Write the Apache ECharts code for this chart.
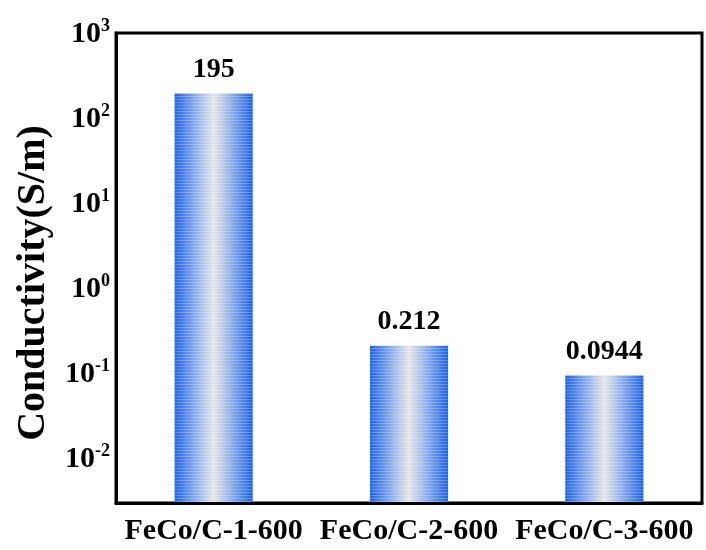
<!DOCTYPE html>
<html>
<head>
<meta charset="utf-8">
<script src="https://cdn.jsdelivr.net/npm/echarts@6/dist/echarts.min.js"></script>
<style>
html, body { margin: 0; padding: 0; background: #fff; }
#chart { width: 706px; height: 550px; }
</style>
</head>
<body>
<div id="chart"></div>
<script>
// samples and measured conductivity (S/m)
var samples = ['FeCo/C-1-600', 'FeCo/C-2-600', 'FeCo/C-3-600'];
var conductivity = [195, 0.212, 0.0944];
var yMin = 0.003, yMax = 1000;

// log axis bars grow from 1, so stack them on an invisible base at the axis bottom
var baseData = samples.map(function () { return yMin; });
var barData = conductivity.map(function (v) { return v - yMin; });

var font = 'Liberation Serif';
var barColor = {
    type: 'linear', x: 0, y: 0, x2: 1, y2: 0,
    colorStops: [
        { offset: 0, color: '#1f63e4' },
        { offset: 0.28, color: '#90b0ec' },
        { offset: 0.5, color: '#e6e6e6' },
        { offset: 0.72, color: '#90b0ec' },
        { offset: 1, color: '#1f63e4' }
    ]
};

var myChart = echarts.init(document.getElementById('chart'));
var option = {
    backgroundColor: '#fff',
    animation: false,
    grid: {
        left: 116, right: 4, top: 33, bottom: 47,
        show: true, borderColor: '#000', borderWidth: 3
    },
    xAxis: [{
        type: 'category',
        z: 5,
        data: samples,
        axisLine: { lineStyle: { color: '#000', width: 3 } },
        axisTick: { inside: true, alignWithLabel: true, length: 7, lineStyle: { color: '#000', width: 2 } },
        axisLabel: {
            color: '#000', fontFamily: font, fontWeight: 'bold', fontSize: 30, margin: 13, interval: 0
        }
    }, {
        // small ticks between categories
        type: 'category',
        z: 5,
        data: samples,
        position: 'bottom',
        axisLine: { show: false },
        axisTick: { inside: true, length: 3, lineStyle: { color: '#000', width: 2 } },
        axisLabel: { show: false }
    }],
    yAxis: {
        type: 'log',
        logBase: 10,
        min: yMin,
        max: yMax,
        name: 'Conductivity(S/m)',
        nameLocation: 'middle',
        nameGap: 61,
        nameTextStyle: {
            color: '#000', fontFamily: font, fontWeight: 'bold', fontSize: 40,
            padding: [0, 30, 0, 0]
        },
        axisLine: { show: true, lineStyle: { color: '#000', width: 3 } },
        axisTick: { inside: true, length: 9, lineStyle: { color: '#000', width: 2 } },
        splitLine: { show: false },
        axisLabel: {
            showMinLabel: false,
            margin: 6,
            formatter: function (v) {
                var e = Math.round(Math.log(v) / Math.LN10);
                return '{b|10}{s|' + e + '}';
            },
            rich: {
                b: { color: '#000', fontFamily: font, fontWeight: 'bold', fontSize: 30, lineHeight: 32, verticalAlign: 'bottom' },
                s: { color: '#000', fontFamily: font, fontWeight: 'bold', fontSize: 18, lineHeight: 18, verticalAlign: 'top' }
            }
        }
    },
    series: [{
        type: 'bar',
        stack: 'c',
        data: baseData,
        barWidth: '40%',
        itemStyle: { color: 'rgba(0,0,0,0)' },
        silent: true
    }, {
        type: 'bar',
        stack: 'c',
        data: barData,
        barWidth: '40%',
        itemStyle: {
            color: barColor,
            decal: {
                symbol: 'rect', symbolSize: 1,
                dashArrayX: [[1, 0]], dashArrayY: [1, 2],
                color: 'rgba(255,255,255,0.22)'
            }
        },
        label: {
            show: true, position: 'top', distance: 10,
            color: '#000', fontFamily: font, fontWeight: 'bold', fontSize: 28,
            formatter: function (p) { return conductivity[p.dataIndex]; }
        }
    }]
};
myChart.setOption(option);
</script>
</body>
</html>
